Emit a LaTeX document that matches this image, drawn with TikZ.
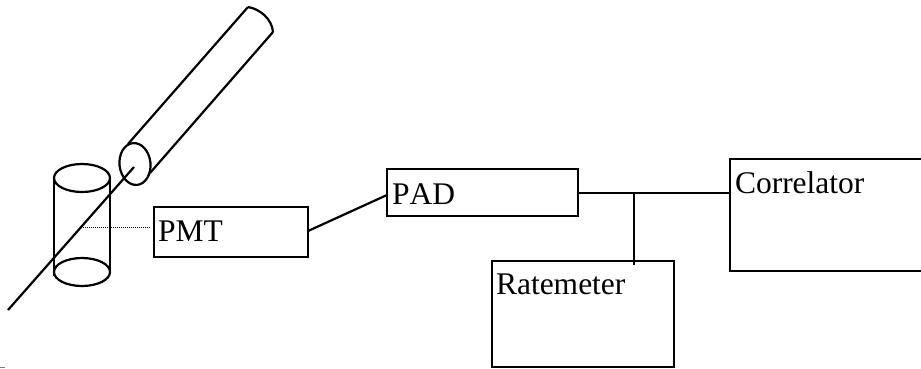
\documentclass[tikz,border=0pt]{standalone}
\usepackage{fontspec}
\setmainfont[Kerning=Off]{Liberation Serif}
\tikzset{
  x=1pt,y=-1pt,
  wire/.style={draw=black,line width=2.2pt},
  boxnode/.style={draw=black,line width=2.2pt,fill=white,rectangle,anchor=north west,inner sep=0pt,outer sep=0pt},
  lbl/.style={anchor=base west,inner sep=0pt,outer sep=0pt,font=\fontsize{31.5}{32}\selectfont,text=black},
}
\begin{document}
\begin{tikzpicture}
\useasboundingbox (0,0) rectangle (921,368);
\clip (0,0) rectangle (921,368);
% boxes
\node[boxnode,minimum width=154pt,minimum height=50pt] (pmt) at (154,207) {};
\node[boxnode,minimum width=191pt,minimum height=47pt] (pad) at (387,169) {};
\node[boxnode,minimum width=182pt,minimum height=106pt] (rate) at (492,261) {};
\node[boxnode,minimum width=220pt,minimum height=112pt] (corr) at (730,159) {};
\node[lbl] (pmtl) at (158,241.5) {PMT};
\node[lbl] (padl) at (392,204) {PAD};
\node[lbl] (ratel) at (496,294) {Ratemeter};
\node[lbl] (corrl) at (735,193) {Correlator};
% connectors
\coordinate (pmtout) at (308,231);
\coordinate (padin) at (387,195);
\coordinate (padout) at (578,193);
\coordinate (corrin) at (730,193);
\coordinate (tap) at (634,193);
\coordinate (ratein) at (634,265);
\draw[wire] (pmtout) -- (padin);
\draw[wire] (padout) -- (corrin);
\draw[wire] (tap) -- (ratein);
% cylinder
\coordinate (beamA) at (8,310);
\coordinate (beamB) at (134,167);
\draw[wire] (82,178) ellipse [x radius=28,y radius=14];
\draw[wire] (82,272) ellipse [x radius=28,y radius=14];
\draw[wire] (54,178) -- (54,276);
\draw[wire] (110,178) -- (110,272);
\draw[wire] (beamA) -- (beamB);
% tube
\coordinate (t1) at (128,144);
\coordinate (t2) at (248,7);
\coordinate (t3) at (150,173);
\coordinate (t4) at (273,32);
\draw[wire,rotate around={6:(135,164)}] (135,164) ellipse [x radius=15.5,y radius=21];
\draw[wire] (t1) -- (t2);
\draw[wire] (t3) -- (t4);
\draw[wire] (t2) .. controls (260,9) and (272,19) .. (t4);
% PMT sight line
\coordinate (sightA) at (83,227);
\coordinate (sightB) at (150,227);
\draw[black,line width=0.9pt,dash pattern=on 1pt off 1pt] (sightA) -- (sightB);
% stray mark
\draw[gray,line width=1pt] (0,367.5) -- (5,367.5);
\end{tikzpicture}
\end{document}
